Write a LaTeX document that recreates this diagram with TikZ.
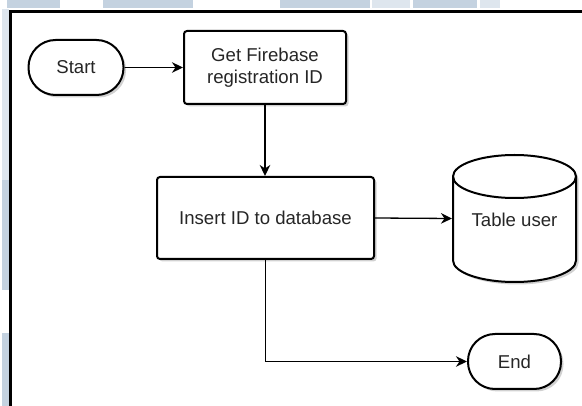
\documentclass[tikz,border=0pt]{standalone}
\usepackage{fontspec}
\setmainfont{Liberation Sans}
\usetikzlibrary{arrows.meta,shadows}
\definecolor{markblue}{RGB}{196,210,224}
\definecolor{marklight}{RGB}{222,230,238}
\definecolor{inkgray}{RGB}{38,38,38}
\begin{document}
\begin{tikzpicture}[x=1pt,y=1pt,
  flowbox/.style={draw, line width=2pt, rounded corners=3pt, fill=white,
    align=center, text=inkgray, inner sep=0pt,
    font=\fontsize{18.6}{22}\selectfont,
    drop shadow={shadow xshift=2.5pt, shadow yshift=-2.5pt, fill=black!40, opacity=0.45}},
  terminal/.style={flowbox, rounded corners=27pt},
  link/.style={line width=1.3pt, -{Stealth[length=11pt,width=10.5pt,inset=3.5pt]}}]

\useasboundingbox (0,0) rectangle (582,-406);

% faint patches along the top and left margins
\fill[markblue] (7,0) rectangle (60,-8.5);
\fill[markblue] (103,0) rectangle (193,-8.5);
\fill[markblue] (280,0) rectangle (370,-8.5);
\fill[marklight] (372,0) rectangle (410,-8.5);
\fill[markblue] (413,0) rectangle (477,-8.5);
\fill[marklight] (480,0) rectangle (500,-8.5);
\fill[marklight] (2,-9) rectangle (8.5,-180);
\fill[markblue] (2,-180) rectangle (8.5,-290);
\fill[markblue] (2,-333) rectangle (8.5,-406);

% frame
\draw[line width=3pt, line join=miter] (10.5,-406) -- (10.5,-11.5) -- (582,-11.5);

% nodes
\node[terminal, minimum width=95pt, minimum height=55pt] (start) at (76,-67.5) {Start};
\node[flowbox, minimum width=162pt, minimum height=73pt] (getid) at (265,-67.5) {Get Firebase\\registration ID};
\node[flowbox, minimum width=217pt, minimum height=82pt] (insert) at (265.5,-218) {Insert ID to database};
\node[inner sep=0pt, outer sep=0pt, minimum width=125pt, minimum height=127pt] (table) at (514.5,-218.5) {};
\node[terminal, minimum width=93pt, minimum height=55pt] (end) at (514.5,-361.5) {End};

% database cylinder
\fill[black!40, opacity=0.45, shift={(2.5,-2.5)}]
  (453,-176.5) arc (180:0:61.5 and 21.5) -- (576,-260.5)
  arc (0:-180:61.5 and 21.5) -- cycle;
\draw[line width=2pt, fill=white]
  (453,-176.5) arc (180:0:61.5 and 21.5) -- (576,-260.5)
  arc (0:-180:61.5 and 21.5) -- cycle;
\draw[line width=2pt] (453,-176.5) arc (180:360:61.5 and 21.5);
\node[text=inkgray, font=\fontsize{18.6}{22}\selectfont, inner sep=0pt] (tablelabel) at (514.5,-220) {Table user};

% connectors
\draw[link] (start.east) -- (getid.west);
\draw[link] (getid.south) -- (getid.south |- insert.north);
\draw[link] (insert.east) -- (table.west);
\draw[link] (insert.south) |- (end.west);
\end{tikzpicture}
\end{document}
